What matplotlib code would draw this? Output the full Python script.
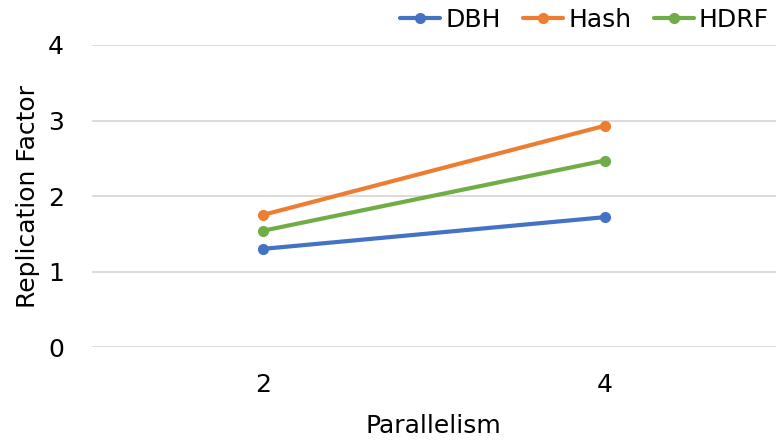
import numpy as np
import matplotlib.pyplot as plt

# replication factor per partitioner at each parallelism level
parallelism = ['2', '4']
dbh = [1.30, 1.72]
hash_rf = [1.75, 2.93]
hdrf = [1.54, 2.47]

series = [('DBH', dbh, '#4472C4'),
          ('Hash', hash_rf, '#ED7D31'),
          ('HDRF', hdrf, '#70AD47')]

plt.rcParams['font.family'] = 'DejaVu Sans'

fig = plt.figure(figsize=(7.83, 4.41), dpi=100)
ax = fig.add_axes([0.1175, 0.213, 0.873, 0.685])

x = np.arange(len(parallelism))
for name, vals, col in series:
    ax.plot(x, vals, color=col, linewidth=3, marker='o', markersize=7,
            label=name, solid_capstyle='round')

ax.set_xlim(-0.5, len(parallelism) - 0.5)
ax.set_ylim(0, 4)
ax.set_yticks(range(5))
ax.set_xticks(x)
ax.set_xticklabels(parallelism)
ax.grid(axis='y', color='#D9D9D9', linewidth=1.3)
ax.set_axisbelow(True)
for s in ['top', 'right', 'left', 'bottom']:
    ax.spines[s].set_visible(False)
ax.tick_params(axis='both', length=0, labelsize=18, colors='#000000')
ax.tick_params(axis='y', pad=20)
ax.tick_params(axis='x', pad=19)

ax.set_ylabel('Replication Factor', fontsize=18, labelpad=6)
ax.set_xlabel('Parallelism', fontsize=18, labelpad=12)

fig.legend(loc='upper right', bbox_to_anchor=(1.011, 1.034), ncol=3,
           frameon=False, fontsize=18, handlelength=1.6, handletextpad=0.2,
           columnspacing=0.9)

fig.savefig('out.png', dpi=100)
